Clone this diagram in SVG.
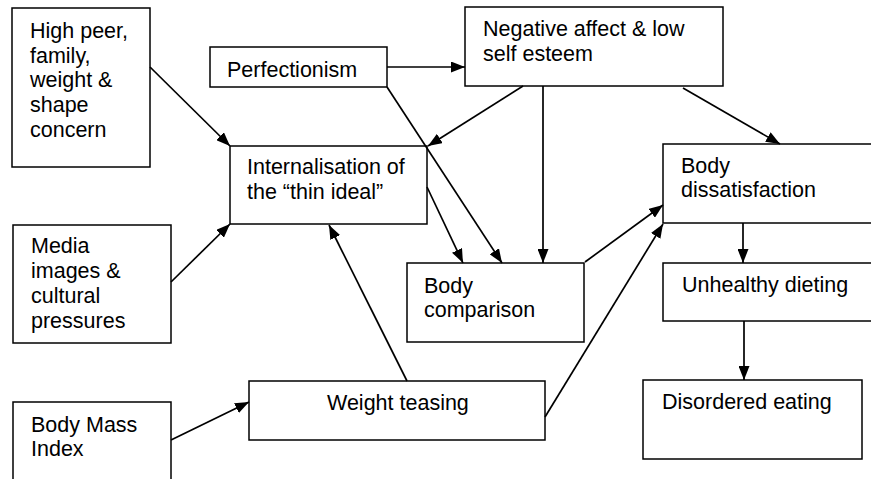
<svg xmlns="http://www.w3.org/2000/svg" width="871" height="479" viewBox="0 0 871 479">
<defs>
<marker id="ah" viewBox="0 0 14 11" refX="14" refY="5.5" markerWidth="14" markerHeight="11" markerUnits="userSpaceOnUse" orient="auto">
<path d="M0,0 L14,5.5 L0,11 Z" fill="#000"/>
</marker>
<style>
rect{fill:#fff;stroke:#000;stroke-width:1.5}
text{font-family:"Liberation Sans",Arial,sans-serif;font-size:21.5px;fill:#000}
.c line{stroke:#000;stroke-width:1.7;marker-end:url(#ah)}
</style>
</defs>
<rect x="0" y="0" width="871" height="479" style="fill:#fff;stroke:none"/>
<g id="n-highpeer"><rect x="12" y="8" width="138" height="159"/>
<text x="30" y="38">High peer,</text><text x="30" y="62.7">family,</text><text x="30" y="87.4">weight &amp;</text><text x="30" y="112">shape</text><text x="30" y="136.7">concern</text></g>
<g id="n-perfectionism"><rect x="210" y="47" width="177" height="40"/><text x="227" y="77">Perfectionism</text></g>
<g id="n-negaffect"><rect x="465" y="7" width="258" height="79"/><text x="483" y="36">Negative affect &amp; low</text><text x="483" y="61">self esteem</text></g>
<g id="n-internal"><rect x="230" y="146" width="197" height="78"/><text x="247" y="174">Internalisation of</text><text x="247" y="199">the “thin ideal”</text></g>
<g id="n-media"><rect x="13" y="225" width="158" height="118"/><text x="31" y="253">Media</text><text x="31" y="278">images &amp;</text><text x="31" y="303">cultural</text><text x="31" y="328">pressures</text></g>
<g id="n-bmi"><rect x="13" y="402" width="158" height="90"/><text x="31" y="432">Body Mass</text><text x="31" y="456">Index</text></g>
<g id="n-teasing"><rect x="249" y="381" width="296" height="59"/><text x="327" y="410">Weight teasing</text></g>
<g id="n-comparison"><rect x="407" y="263" width="177" height="79"/><text x="424" y="293">Body</text><text x="424" y="317">comparison</text></g>
<g id="n-dissat"><rect x="663" y="144" width="215" height="79"/><text x="681" y="173">Body</text><text x="681" y="197">dissatisfaction</text></g>
<g id="n-dieting"><rect x="663" y="263" width="215" height="58"/><text x="682" y="292">Unhealthy dieting</text></g>
<g id="n-disordered"><rect x="643" y="380" width="219" height="79"/><text x="662" y="409">Disordered eating</text></g>
<g class="c" id="connectors">
<line x1="150" y1="67" x2="230" y2="146"/>
<line x1="171" y1="282" x2="230" y2="224"/>
<line x1="387" y1="67" x2="465" y2="67"/>
<line x1="523" y1="86" x2="428" y2="146"/>
<line x1="387" y1="87" x2="502" y2="263"/>
<line x1="427" y1="187" x2="463" y2="263"/>
<line x1="543" y1="86" x2="543" y2="263"/>
<line x1="683" y1="88" x2="780" y2="144"/>
<line x1="585" y1="262" x2="663" y2="205"/>
<line x1="545" y1="417" x2="663" y2="224"/>
<line x1="407" y1="381" x2="329" y2="225"/>
<line x1="171" y1="440" x2="249" y2="402"/>
<line x1="743" y1="223" x2="743" y2="263"/>
<line x1="744" y1="321" x2="744" y2="380"/>
</g>
</svg>
